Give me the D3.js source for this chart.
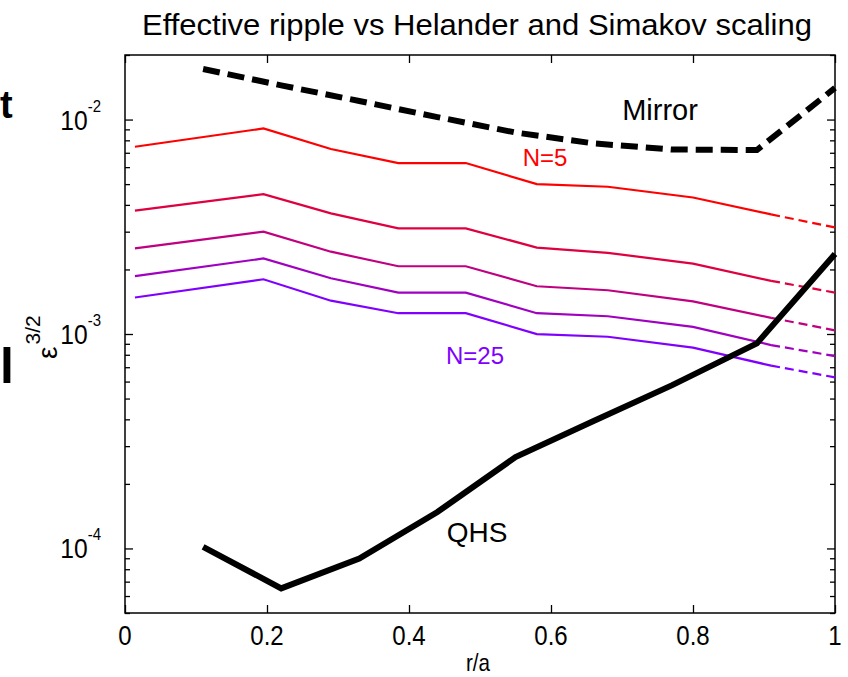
<!DOCTYPE html>
<html><head><meta charset="utf-8">
<script src="https://cdn.jsdelivr.net/npm/d3@7/dist/d3.min.js"></script>
<style>
html,body{margin:0;padding:0;background:#fff;}
svg{display:block;font-family:"Liberation Sans",Arial,sans-serif;}
</style></head>
<body>
<svg id="chart" width="848" height="677"></svg>
<script>
// ---- data ----
const rGrid = [0.014, 0.195, 0.29, 0.385, 0.48, 0.58, 0.68, 0.8, 0.91, 1.0];
const seriesNames = ["N=5", "N=10", "N=15", "N=20", "N=25"];
const seriesN5  = [0.00747, 0.00909, 0.00729, 0.00627, 0.00627, 0.00500, 0.00486, 0.00433, 0.00361, 0.00314];
const seriesN10 = [0.00376, 0.00449, 0.00365, 0.00311, 0.00311, 0.00253, 0.00239, 0.00213, 0.00177, 0.00156];
const seriesN15 = [0.00251, 0.00300, 0.00242, 0.00207, 0.00207, 0.00167, 0.00160, 0.00142, 0.00119, 0.00104];
const seriesN20 = [0.00186, 0.00225, 0.00182, 0.00156, 0.00156, 0.00125, 0.00121, 0.00108, 0.000888, 0.000789];
const seriesN25 = [0.00148, 0.00180, 0.00143, 0.00125, 0.00125, 0.000999, 0.000971, 0.000864, 0.000712, 0.000628];
const seriesColors = ["#ff0000", "#df0040", "#bf0080", "#a000bf", "#8000ff"];

const rRef = [0.11, 0.22, 0.33, 0.44, 0.55, 0.66, 0.77, 0.89, 1.0];
const mirrorVals = [0.01720, 0.01444, 0.01220, 0.01027, 0.00870, 0.00774, 0.00725, 0.00721, 0.01404];
const qhsVals = [1.018e-4, 6.51e-5, 8.98e-5, 1.478e-4, 2.667e-4, 3.925e-4, 5.76e-4, 9.04e-4, 2.36e-3];

const xTicks = [0, 0.2, 0.4, 0.6, 0.8, 1];
const xTickLabels = ["0", "0.2", "0.4", "0.6", "0.8", "1"];
const yMajor = [1e-4, 1e-3, 1e-2];
const yMajorExp = ["-4", "-3", "-2"];

const titleText = "Effective ripple vs Helander and Simakov scaling";
const xLabel = "r/a";

// ---- layout ----
const L = 125, R = 835, T = 55, B = 613;
const svg = d3.select("#chart");
const x = d3.scaleLinear().domain([0, 1]).range([L, R]);
const y = d3.scaleLog().domain([5e-5, 2e-2]).range([B, T]);
const at = (px, py, sx) => `translate(${px},${py}) scale(${sx},1)`;

// cropped slide letters at left edge
svg.append("text").attr("x", 0).attr("y", 118).attr("font-size", 38).attr("font-weight", "bold").text("t");
svg.append("text").attr("x", 0).attr("y", 383).attr("font-size", 50).attr("font-weight", "bold").text("l");

// minor ticks
const yMinor = [];
for (let e = -5; e <= -2; e++) for (let m = 2; m <= 9; m++) {
  const v = m * Math.pow(10, e);
  if (v >= 5e-5 && v <= 2e-2) yMinor.push(v);
}

const gAxes = svg.append("g");
const axB = gAxes.append("g").attr("transform", `translate(0,${B})`)
  .call(d3.axisBottom(x).tickValues(xTicks).tickSize(-8).tickFormat(""));
const axT = gAxes.append("g").attr("transform", `translate(0,${T})`)
  .call(d3.axisTop(x).tickValues(xTicks).tickSize(-8).tickFormat(""));
const axL = gAxes.append("g").attr("transform", `translate(${L},0)`)
  .call(d3.axisLeft(y).tickValues(yMajor).tickSize(-8).tickFormat(""));
const axR = gAxes.append("g").attr("transform", `translate(${R},0)`)
  .call(d3.axisRight(y).tickValues(yMajor).tickSize(-8).tickFormat(""));
const axLm = gAxes.append("g").attr("transform", `translate(${L},0)`)
  .call(d3.axisLeft(y).tickValues(yMinor).tickSize(-5).tickFormat(""));
const axRm = gAxes.append("g").attr("transform", `translate(${R},0)`)
  .call(d3.axisRight(y).tickValues(yMinor).tickSize(-5).tickFormat(""));
[axB, axT, axL, axR, axLm, axRm].forEach(g => {
  g.select(".domain").remove();
  g.selectAll("line").attr("stroke", "#000").attr("stroke-width", 1.3);
});
svg.append("rect").attr("x", L).attr("y", T).attr("width", R - L).attr("height", B - T)
  .attr("fill", "none").attr("stroke", "#000").attr("stroke-width", 1.5);

// x tick labels
svg.append("g").selectAll("text").data(xTicks).join("text")
  .attr("transform", d => at(x(d), B + 32, 0.86)).attr("text-anchor", "middle")
  .attr("font-size", 28).attr("fill", "#000")
  .text((d, i) => xTickLabels[i]);

// y tick labels
const yl = svg.append("g").selectAll("text").data(yMajor).join("text")
  .attr("transform", d => at(L - 24, y(d) + 10, 0.88)).attr("text-anchor", "end")
  .attr("font-size", 28).attr("fill", "#000");
yl.append("tspan").text("10");
yl.append("tspan").attr("dy", -18).attr("font-size", 17).text((d, i) => yMajorExp[i]);

// title & labels
svg.append("text").attr("x", 477).attr("y", 35).attr("text-anchor", "middle")
  .attr("font-size", 29).attr("textLength", 670).attr("lengthAdjust", "spacingAndGlyphs").text(titleText);
svg.append("text").attr("transform", at(478, 671, 0.86)).attr("text-anchor", "middle").attr("font-size", 24).text(xLabel);

const ylab = svg.append("text").attr("transform", "translate(57,359) rotate(-90)").attr("font-size", 28);
ylab.append("tspan").text("\u03b5");
ylab.append("tspan").attr("dy", -17).attr("dx", 2).attr("font-size", 21).text("3/2");

// ---- lines ----
const line = d3.line().x(d => x(d[0])).y(d => y(d[1]));
const allSeries = [seriesN5, seriesN10, seriesN15, seriesN20, seriesN25];
const gL = svg.append("g").attr("fill", "none");
allSeries.forEach((vals, i) => {
  const pts = rGrid.map((r, j) => [r, vals[j]]);
  gL.append("path").attr("d", line(pts.slice(0, 9))).attr("stroke", seriesColors[i]).attr("stroke-width", 2.2);
  gL.append("path").attr("d", line(pts.slice(8))).attr("stroke", seriesColors[i]).attr("stroke-width", 2.2)
    .attr("stroke-dasharray", "9,5");
});
gL.append("path").attr("d", line(rRef.map((r, j) => [r, mirrorVals[j]])))
  .attr("stroke", "#000").attr("stroke-width", 6).attr("stroke-dasharray", "17,8");
gL.append("path").attr("d", line(rRef.map((r, j) => [r, qhsVals[j]])))
  .attr("stroke", "#000").attr("stroke-width", 6).attr("stroke-linejoin", "miter");

// annotations
svg.append("text").attr("x", 660).attr("y", 120).attr("text-anchor", "middle").attr("font-size", 29).text("Mirror");
svg.append("text").attr("x", 545).attr("y", 166).attr("text-anchor", "middle").attr("font-size", 24).attr("fill", seriesColors[0]).text("N=5");
svg.append("text").attr("x", 475).attr("y", 364).attr("text-anchor", "middle").attr("font-size", 24).attr("fill", seriesColors[4]).text("N=25");
svg.append("text").attr("x", 477).attr("y", 542).attr("text-anchor", "middle").attr("font-size", 28).text("QHS");
</script>
</body></html>
